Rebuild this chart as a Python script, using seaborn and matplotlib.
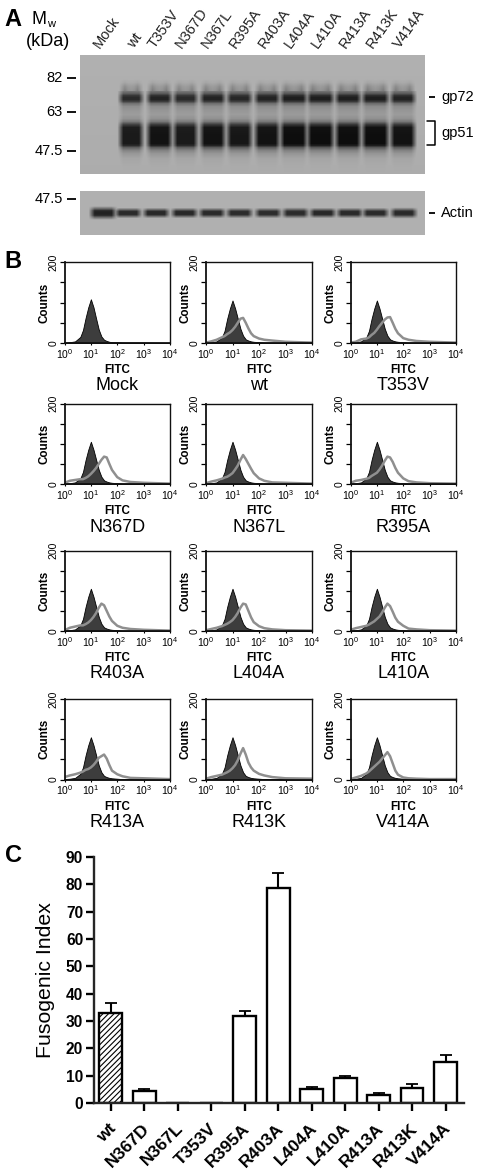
import numpy as np
import matplotlib
matplotlib.use("Agg")
import matplotlib.pyplot as plt
import matplotlib.transforms as mtrans
import seaborn as sns

W, H = 479, 1173

# ── panel A: blots ─────────────────────────────────────────────────────────
LANE_NAMES = ["Mock", "wt", "T353V", "N367D", "N367L", "R395A", "R403A",
              "L404A", "L410A", "R413A", "R413K", "V414A"]
GEL_STRENGTH = [0.0, 0.95, 1.0, 0.95, 1.0, 0.97, 1.0, 1.03, 1.03, 1.03, 1.03, 1.0]
GEL_WIDTH = [1.0, 0.95, 1.0, 0.97, 1.0, 1.0, 1.0, 1.07, 1.07, 1.03, 1.07, 1.0]
GEL_ROWS = [0, 23, 27, 31, 35, 38, 40, 42, 44, 46, 48, 51, 55, 59, 63, 66, 69,
            72, 80, 88, 90, 92, 95, 98, 103, 110, 119]
GEL_GREY = [176, 176, 165, 140, 125, 90, 50, 35, 35, 60, 110, 140, 150, 155,
            145, 120, 60, 22, 18, 18, 35, 90, 130, 150, 165, 170, 172]
ACTIN_HEIGHT = [1.15, 0.9, 0.9, 0.9, 0.9, 0.9, 0.9, 0.95, 0.9, 0.9, 0.9, 0.95]
ACTIN_GREY = [32, 40, 38, 38, 40, 42, 42, 42, 38, 40, 40, 40]

# ── panel B: flow cytometry histograms ─────────────────────────────────────
PANEL_NAMES = ["Mock", "wt", "T353V", "N367D", "N367L", "R395A",
               "R403A", "L404A", "L410A", "R413A", "R413K", "V414A"]
LOG_FITC = [0, .2, .4, .6, .7, .8, .9, 1.0, 1.1, 1.2, 1.3, 1.4, 1.5, 1.6, 1.7,
            1.8, 2.0, 2.2, 2.5, 3.0, 4.0]
CONTROL = [1, 2, 4, 14, 30, 60, 85, 105, 85, 60, 35, 18, 9, 6, 4, 3, 2, 1, 1, 0, 0]
MOCK_CTRL = [1, 2, 4, 15, 32, 62, 88, 108, 88, 60, 33, 16, 8, 5, 3, 2, 2, 1, 1, 1, 0]
GREY_WT = [1, 4, 8, 14, 17, 22, 26, 32, 40, 50, 60, 62, 50, 36, 24, 17, 11, 8, 6, 3, 1]
GREY_T353V = [1, 3, 9, 11, 14, 20, 25, 33, 42, 50, 58, 63, 64, 50, 35, 24, 12, 8, 5, 3, 1]
GREY_N367D = [3, 8, 10, 12, 12, 15, 19, 25, 32, 40, 50, 60, 68, 66, 50, 35, 17, 9, 5, 3, 1]
GREY_N367L = [2, 6, 9, 13, 16, 18, 22, 27, 36, 46, 60, 72, 62, 50, 38, 27, 14, 8, 4, 3, 1]
GREY_R395A = [3, 8, 10, 13, 15, 20, 24, 28, 36, 46, 58, 68, 66, 55, 40, 28, 14, 7, 4, 2, 1]
GREY_R403A = [2, 8, 11, 14, 14, 17, 21, 27, 35, 45, 58, 68, 64, 50, 36, 25, 13, 8, 5, 3, 1]
GREY_L404A = [2, 5, 8, 12, 15, 18, 22, 27, 35, 45, 58, 68, 66, 50, 34, 22, 12, 7, 4, 2, 1]
GREY_L410A = [3, 7, 10, 13, 16, 20, 24, 30, 36, 46, 58, 68, 62, 48, 33, 23, 13, 6, 4, 2, 1]
GREY_R413A = [6, 10, 13, 17, 20, 24, 26, 30, 36, 44, 54, 58, 62, 52, 36, 22, 13, 8, 4, 3, 1]
GREY_R413K = [2, 6, 9, 12, 15, 18, 22, 28, 36, 48, 64, 78, 62, 42, 30, 22, 14, 10, 6, 3, 2]
GREY_V414A = [1, 5, 9, 15, 20, 26, 32, 38, 44, 52, 60, 68, 58, 40, 22, 12, 5, 3, 2, 1, 1]
GREY_CURVES = [None, GREY_WT, GREY_T353V, GREY_N367D, GREY_N367L, GREY_R395A,
               GREY_R403A, GREY_L404A, GREY_L410A, GREY_R413A, GREY_R413K, GREY_V414A]

# ── panel C: fusogenic index ───────────────────────────────────────────────
FUSION_GROUPS = ["wt", "N367D", "N367L", "T353V", "R395A", "R403A", "L404A",
                 "L410A", "R413A", "R413K", "V414A"]
FUSION_INDEX = [33, 4.3, 0, 0, 32, 78.5, 5.3, 9, 3, 5.5, 15]
FUSION_SEM = [3.7, 0.7, 0, 0, 1.5, 5.8, 0.5, 0.7, 0.6, 1.3, 2.6]

# layout, in reference pixels
GEL_CENTRES = [130.7, 159, 185, 212.3, 239, 266.7, 293.3, 320, 347.7, 375, 402.3]
ACTIN_CENTRES = [102.7, 127.7, 155.7, 184, 211.7, 239, 267.7, 295, 322.3, 349.3, 375, 403.3]
LABEL_X = [96, 131, 151, 178, 204, 232, 261, 287, 314, 342, 369, 397]
COL_X = [(64.5, 170), (206, 312), (350.5, 456)]
ROW_Y = [(262, 343), (403.5, 484), (550.5, 631), (699, 779.5)]

sns.set_theme(style="ticks")
plt.rcParams["font.family"] = ["Liberation Sans", "DejaVu Sans"]
plt.rcParams["mathtext.default"] = "regular"
plt.rcParams["hatch.linewidth"] = 0.8
for key in ("text.color", "axes.labelcolor", "xtick.color", "ytick.color"):
    plt.rcParams[key] = "black"


def px_axes(fig, x0, y0, x1, y1):
    return fig.add_axes([x0 / W, 1 - y1 / H, (x1 - x0) / W, (y1 - y0) / H])


def lane_shape(offset, half_width, dip=0.0):
    # across one lane: soft edges, optional gap in the middle (smear above gp72)
    return np.interp(np.abs(offset),
                     [0, 3, half_width - 4, half_width - 1, half_width + 2],
                     [1 - dip, 1 - dip * 0.8, 1, 0.5, 0])


def gel_image():
    rows = np.arange(119)
    grey = np.interp(rows, GEL_ROWS, GEL_GREY)
    img = np.interp(rows, [0, 119], [176, 172])[:, None] * np.ones((119, 345))
    cols = np.arange(345) + 80
    for i, cx in enumerate(GEL_CENTRES):
        half = 12.5 * GEL_WIDTH[i + 1]
        for r in rows:
            dip = 0.45 if r < 36 else 0.0
            hw = half - 1.5 if r < 36 else half
            dark = (176 - grey[r]) * GEL_STRENGTH[i + 1]
            img[r] = np.minimum(img[r], 176 - dark * lane_shape(cols - cx, hw, dip))
    return np.clip(img, 5, 255)


def actin_image():
    rows = np.arange(44)
    cols = np.arange(345) + 80
    img = np.full((44, 345), 176.0)
    for i, cx in enumerate(ACTIN_CENTRES):
        prof = np.interp(np.abs(rows - 21.5) / ACTIN_HEIGHT[i], [0, 2, 3.5, 6], [1, 0.95, 0.55, 0])
        shape = lane_shape(cols - cx, 12.5)
        img = np.minimum(img, 176 - (176 - ACTIN_GREY[i]) * np.outer(prof, shape))
    return img


fig = plt.figure(figsize=(W / 100, H / 100), dpi=100, facecolor="white")

# ── blots ──
for box, img in (((80, 55, 425, 174), gel_image()), ((80, 191, 425, 235), actin_image())):
    ax = px_axes(fig, *box)
    sns.heatmap(img, ax=ax, cmap="gray", vmin=0, vmax=255, cbar=False,
                xticklabels=False, yticklabels=False, rasterized=True)
    ax.tick_params(length=0)

# ── histograms ──
for n, name in enumerate(PANEL_NAMES):
    row, col = divmod(n, 3)
    ax = px_axes(fig, COL_X[col][0], ROW_Y[row][0], COL_X[col][1], ROW_Y[row][1])
    ax.set_xscale("log")
    fitc = 10.0 ** np.array(LOG_FITC)
    ctrl = MOCK_CTRL if n == 0 else CONTROL
    ax.fill_between(fitc, ctrl, color="#3d3d3d", lw=0.6, edgecolor="black")
    if GREY_CURVES[n] is not None:
        sns.lineplot(x=fitc, y=GREY_CURVES[n], ax=ax, color="#8f8f8f", lw=1.8,
                     estimator=None, errorbar=None)
    ax.set_xlim(1, 1e4)
    ax.set_ylim(0, 200)
    ax.set_xticks([1, 10, 100, 1000, 10000])
    ax.minorticks_off()
    ax.set_yticks([0, 50, 100, 150, 200])
    ax.set_yticklabels(["0", "", "", "", "200"], rotation=90, va="center", fontsize=7.5)
    ax.tick_params(axis="x", labelsize=7.5, length=1.5, width=0.8, pad=1.5)
    ax.tick_params(axis="y", length=3.5, width=0.9, pad=1)
    for s in ax.spines.values():
        s.set_linewidth(1.0)
        s.set_color("#111111")
    ax.spines["left"].set_linewidth(1.3)
    ax.spines["bottom"].set_linewidth(1.3)
    ax.set_xlabel("FITC", fontsize=8.4, fontweight="bold", labelpad=2.5)
    ax.set_ylabel("Counts", fontsize=8.4, fontweight="bold")
    ax.yaxis.set_label_coords(-14.5 / 105.5, 0.5)

# ── bars ──
ax = px_axes(fig, 94, 857, 464, 1103)
sns.barplot(x=FUSION_GROUPS, y=FUSION_INDEX, ax=ax, width=0.68, color="white",
            edgecolor="black", linewidth=1.7, errorbar=None, saturation=1)
ax.patches[0].set_hatch("//////")
idx = np.arange(len(FUSION_GROUPS))
has_err = np.array(FUSION_SEM) > 0
ax.errorbar(idx[has_err], np.array(FUSION_INDEX)[has_err],
            yerr=[np.zeros(has_err.sum()), np.array(FUSION_SEM)[has_err]],
            fmt="none", ecolor="black", elinewidth=1.5, capsize=4.6, capthick=1.3)
ax.set_xlim(-0.5, 10.55)
ax.set_ylim(0, 90)
ax.set_yticks(range(0, 91, 10))
sns.despine(ax=ax)
for s in ("left", "bottom"):
    ax.spines[s].set_linewidth(1.7)
ax.tick_params(axis="both", length=5.8, width=1.7, color="black")
ax.tick_params(axis="y", labelsize=11.2, pad=2)
ax.tick_params(axis="x", labelsize=12.6, pad=7)
for lab in ax.get_yticklabels():
    lab.set_fontweight("bold")
ax.set_xticks(idx)
ax.set_xticklabels(FUSION_GROUPS, rotation=45, ha="right", rotation_mode="anchor",
                   fontweight="bold", fontsize=12.6)
shift = mtrans.ScaledTranslation(-2.5 / 100, 0, fig.dpi_scale_trans)
for lab in ax.get_xticklabels():
    lab.set_transform(lab.get_transform() + shift)
ax.set_ylabel("Fusogenic Index", fontsize=15.3)
ax.yaxis.set_label_coords((55 - 94) / 370, 0.5)

# ── everything placed by hand, in pixel coordinates ──
over = fig.add_axes([0, 0, 1, 1])
over.set_xlim(0, W)
over.set_ylim(H, 0)
over.axis("off")
over.patch.set_alpha(0)

for x, y, t in ((13, 20, "A"), (13, 261, "B"), (14, 856, "C")):
    over.text(x, y, t, fontsize=17, fontweight="bold", ha="center", va="center")
over.text(47, 20, "M", fontsize=13, ha="right", va="center")
over.text(47.5, 24, "w", fontsize=8, ha="left", va="center")
over.text(48, 42, "(kDa)", fontsize=13, ha="center", va="center")
for name, x in zip(LANE_NAMES, LABEL_X):
    over.text(x, 47, name, fontsize=10.5, rotation=55, rotation_mode="anchor",
              ha="left", va="center", color="#222222")
for y, t in ((78, "82"), (112, "63"), (151, "47.5"), (199, "47.5")):
    over.text(63, y, t, fontsize=10.5, ha="right", va="center")
    over.plot([67, 76], [y, y], color="black", lw=1.3, solid_capstyle="butt")
for y, t in ((97, "gp72"), (133, "gp51"), (213, "Actin")):
    over.text(441, y, t, fontsize=10.5, ha="left", va="center")
for y in (97, 213):
    over.plot([429, 435], [y, y], color="black", lw=1.3, solid_capstyle="butt")
over.plot([427, 435, 435, 427], [121, 121, 145, 145], color="black", lw=1.1)
for n, name in enumerate(PANEL_NAMES):
    row, col = divmod(n, 3)
    over.text(sum(COL_X[col]) / 2, ROW_Y[row][1] + 43, name, fontsize=13,
              ha="center", va="center")

fig.savefig("out.png", dpi=100)
